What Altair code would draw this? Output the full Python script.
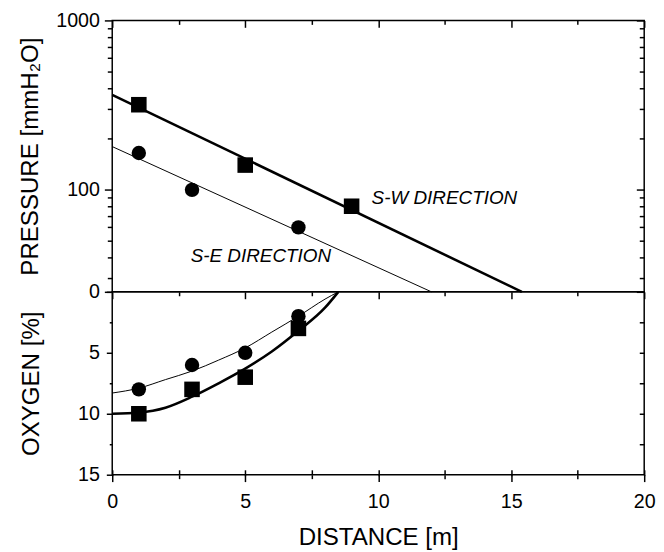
import altair as alt
import pandas as pd

# ---------------- data ----------------
# top panel: pressure [mmH2O] vs distance [m]
sw_dist = [1, 5, 9]
sw_pressure = [318, 140, 80]
se_dist = [1, 3, 7]
se_pressure = [165, 100, 60]

# fitted straight lines on log scale (end points)
sw_fit_dist = [0, 15.4]
sw_fit_pressure = [364, 25]
se_fit_dist = [0, 12.0]
se_fit_pressure = [180, 25]

# bottom panel: oxygen [%] vs distance [m]
ox_dist = [1, 3, 5, 7]
sw_oxygen = [10, 8, 7, 3]
se_oxygen = [8, 6, 5, 2]

# fitted curves
curve_dist = [0, 1, 2, 3, 4, 5, 6, 7, 8, 8.5]
sw_oxy_curve = [10.0, 9.9, 9.5, 8.6, 7.5, 6.3, 4.9, 3.2, 1.3, 0.0]
se_oxy_curve = [8.3, 7.9, 7.2, 6.5, 5.6, 4.6, 3.3, 2.0, 0.6, 0.0]

# annotations
label_text = ["S-W DIRECTION", "S-E DIRECTION"]
label_dist = [9.75, 2.95]
label_pressure = [89.5, 40.5]

# tick values
x_major = [0, 5, 10, 15, 20]
x_minor = [2.5, 7.5, 12.5, 17.5]
p_major = [25, 100, 1000]
p_minor = [30, 40, 50, 60, 70, 80, 90, 200, 300, 400, 500, 600, 700, 800, 900]
o_major = [0, 5, 10, 15]
o_minor = [2.5, 7.5, 12.5]

# ---------------- frames ----------------
sw_pts = pd.DataFrame({"d": sw_dist, "p": sw_pressure})
se_pts = pd.DataFrame({"d": se_dist, "p": se_pressure})
sw_fit = pd.DataFrame({"d": sw_fit_dist, "p": sw_fit_pressure})
se_fit = pd.DataFrame({"d": se_fit_dist, "p": se_fit_pressure})
labels = pd.DataFrame({"d": label_dist, "p": label_pressure, "t": label_text})
sw_ox = pd.DataFrame({"d": ox_dist, "o": sw_oxygen})
se_ox = pd.DataFrame({"d": ox_dist, "o": se_oxygen})
sw_oc = pd.DataFrame({"d": curve_dist, "o": sw_oxy_curve})
se_oc = pd.DataFrame({"d": curve_dist, "o": se_oxy_curve})

FONT = "Liberation Sans"
x_all = sorted(x_major + x_minor)
p_all = sorted(p_major + p_minor)
o_all = sorted(o_major + o_minor)

xscale = alt.Scale(domain=[0, 20], nice=False, zero=False)
pscale = alt.Scale(type="log", domain=[25, 1000], nice=False)
oscale = alt.Scale(domain=[0, 15], reverse=True, nice=False, zero=False)

TW = 1.5
TITLE_FS = 24.5
LABEL_FS = 20
SQ_SIZE = 250
CI_SIZE = 215


def plain(**kw):
    base = dict(labels=False, domain=False, grid=False, title=None,
                tickColor="black", tickWidth=TW)
    base.update(kw)
    return alt.Axis(**base)


def cond_size(test, big, small):
    return {"condition": {"test": test, "value": big}, "value": small}


x_major_test = "datum.value % 5 == 0"

# ---------------- top panel ----------------
top_main = alt.Chart(sw_fit).mark_line(color="black", strokeWidth=2.6).encode(
    x=alt.X("d:Q", scale=xscale,
            axis=plain(orient="bottom", values=x_all,
                       tickSize=cond_size(x_major_test, 7, 4))),
    y=alt.Y("p:Q", scale=pscale,
            axis=alt.Axis(orient="left", values=p_all,
                          labelExpr="datum.value == 25 ? '0' : (datum.value == 100 || datum.value == 1000) ? format(datum.value, 'd') : ''",
                          tickSize=cond_size("datum.value == 25 || datum.value == 100 || datum.value == 1000", 8, 5),
                          tickColor="black", tickWidth=TW, domain=False, grid=False,
                          labelFont=FONT, labelFontSize=LABEL_FS, labelColor="black",
                          labelPadding=5, labelFlush=False, labelOverlap=False,
                          title="PRESSURE [mmH\u2082O]", titleFont=FONT, titleFontSize=TITLE_FS,
                          titleFontWeight="normal", titleColor="black", titlePadding=11,
                          minExtent=60, maxExtent=60)),
)

top_se_line = alt.Chart(se_fit).mark_line(color="black", strokeWidth=1).encode(
    x=alt.X("d:Q", scale=xscale,
            axis=plain(orient="top", values=x_major, tickSize=7, offset=-7)),
    y=alt.Y("p:Q", scale=pscale,
            axis=plain(orient="right", values=p_major, tickSize=8, offset=-8)),
)

top_sw_pts = alt.Chart(sw_pts).mark_point(shape="square", filled=True, size=SQ_SIZE,
                                          color="black", opacity=1).encode(
    x=alt.X("d:Q", scale=xscale,
            axis=plain(orient="top", values=x_minor, tickSize=4, offset=-4)),
    y=alt.Y("p:Q", scale=pscale,
            axis=plain(orient="right", values=p_minor, tickSize=5, offset=-5)),
)

top_se_pts = alt.Chart(se_pts).mark_point(shape="circle", filled=True, size=CI_SIZE,
                                          color="black", opacity=1).encode(
    x=alt.X("d:Q", scale=xscale, axis=None),
    y=alt.Y("p:Q", scale=pscale, axis=None),
)

top_text = alt.Chart(labels).mark_text(align="left", baseline="middle", font=FONT,
                                       fontSize=19.2, fontStyle="italic",
                                       color="black").encode(
    x=alt.X("d:Q", scale=xscale, axis=None),
    y=alt.Y("p:Q", scale=pscale, axis=None),
    text="t:N",
)

top = alt.layer(top_main, top_se_line, top_sw_pts, top_se_pts, top_text).resolve_axis(
    x="independent", y="independent"
).properties(width=541, height=276)

# ---------------- bottom panel ----------------
bot_main = alt.Chart(sw_oc).mark_line(color="black", strokeWidth=2.6,
                                      interpolate="monotone").encode(
    x=alt.X("d:Q", scale=xscale,
            axis=alt.Axis(orient="bottom", values=x_all,
                          labelExpr="datum.value % 5 == 0 ? format(datum.value, 'd') : ''",
                          tickSize=cond_size(x_major_test, 7, 4),
                          tickColor="black", tickWidth=TW, domain=False, grid=False,
                          labelFont=FONT, labelFontSize=LABEL_FS, labelColor="black",
                          labelPadding=10, labelFlush=False, labelOverlap=False,
                          title="DISTANCE [m]", titleFont=FONT, titleFontSize=TITLE_FS,
                          titleFontWeight="normal", titleColor="black", titlePadding=15)),
    y=alt.Y("o:Q", scale=oscale,
            axis=alt.Axis(orient="left", values=o_all,
                          labelExpr="(datum.value == 5 || datum.value == 10 || datum.value == 15) ? format(datum.value, 'd') : ''",
                          tickSize=cond_size("datum.value % 5 == 0", 6, 3),
                          tickColor="black", tickWidth=TW, domain=False, grid=False,
                          labelFont=FONT, labelFontSize=LABEL_FS, labelColor="black",
                          labelPadding=7, labelFlush=False, labelOverlap=False,
                          title="OXYGEN [%]", titleFont=FONT, titleFontSize=TITLE_FS,
                          titleFontWeight="normal", titleColor="black", titlePadding=10,
                          minExtent=60, maxExtent=60)),
)

bot_se_line = alt.Chart(se_oc).mark_line(color="black", strokeWidth=1,
                                         interpolate="monotone").encode(
    x=alt.X("d:Q", scale=xscale,
            axis=plain(orient="bottom", values=x_all,
                       tickSize=cond_size(x_major_test, 6, 4), offset=-5)),
    y=alt.Y("o:Q", scale=oscale,
            axis=plain(orient="right", values=o_minor + [5, 10], tickSize=5, offset=-5)),
)

bot_sw_pts = alt.Chart(sw_ox).mark_point(shape="square", filled=True, size=SQ_SIZE,
                                         color="black", opacity=1).encode(
    x=alt.X("d:Q", scale=xscale, axis=None),
    y=alt.Y("o:Q", scale=oscale, axis=None),
)

bot_se_pts = alt.Chart(se_ox).mark_point(shape="circle", filled=True, size=CI_SIZE,
                                         color="black", opacity=1).encode(
    x=alt.X("d:Q", scale=xscale, axis=None),
    y=alt.Y("o:Q", scale=oscale, axis=None),
)

bottom = alt.layer(bot_main, bot_se_line, bot_sw_pts, bot_se_pts).resolve_axis(
    x="independent", y="independent"
).properties(width=541, height=186)

chart = alt.vconcat(top, bottom, spacing=0, bounds="flush").configure_view(
    stroke="black", strokeWidth=1.5
).properties(
    padding={"left": 9, "top": -3, "right": 0, "bottom": 0},
    background="white",
)

chart.save("out.html", embed_options={"renderer": "svg", "actions": False})
